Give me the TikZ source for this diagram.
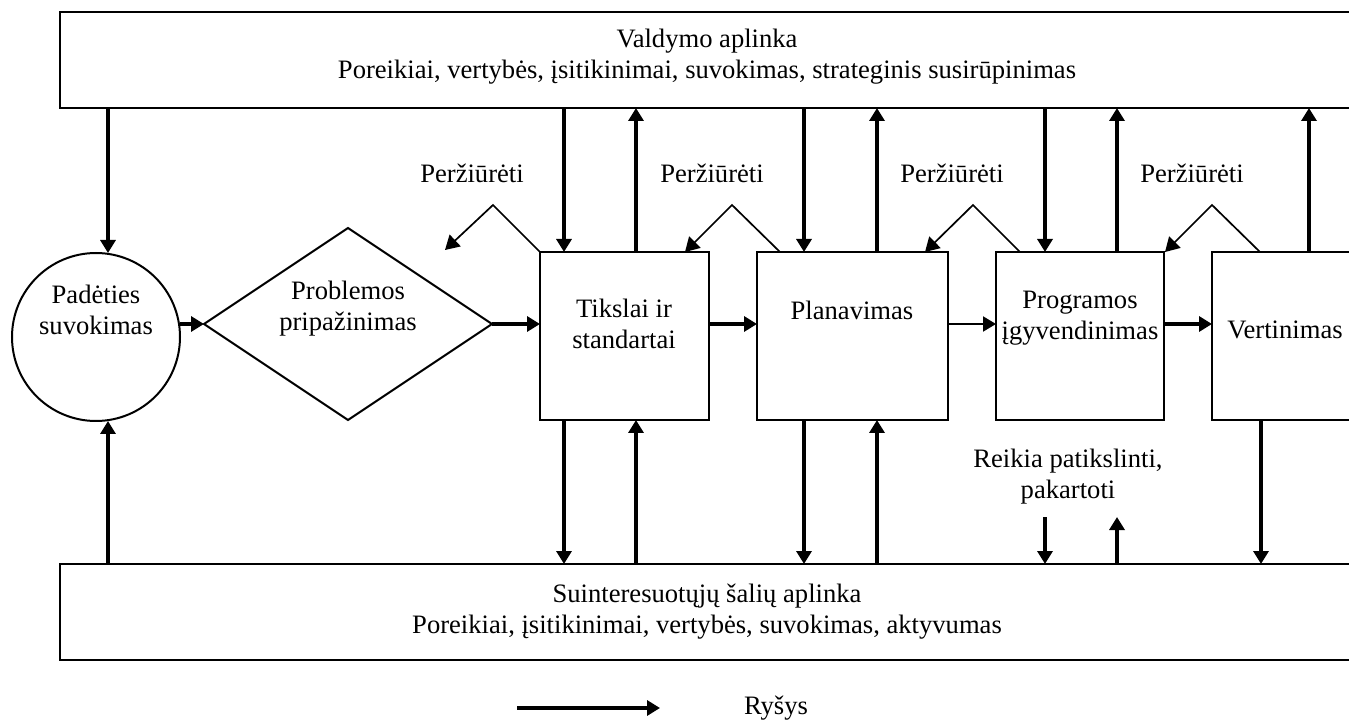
\documentclass[tikz,border=0pt]{standalone}
\usepackage{fontspec}
\setmainfont{Liberation Serif}
\usetikzlibrary{arrows.meta,shapes.geometric}

\begin{document}
\begin{tikzpicture}[x=0.5pt,y=-0.5pt,
  box/.style={draw,line width=1pt,inner sep=0pt,outer sep=0pt},
  lbl/.style={font=\fontsize{13.3}{15.5}\selectfont,align=center,inner sep=0pt},
  link/.style={line width=2pt,-{Triangle[length=6.5pt,width=7.5pt]}},
  thinlink/.style={line width=1pt,-{Triangle[length=6.5pt,width=7.5pt]}},
  review/.style={line width=0.85pt,-{Triangle[length=7pt,width=8pt]}}]

\useasboundingbox (0,0) rectangle (1349,721);
\clip (0,0) rectangle (1349,721);

% environments (top and bottom bands)
\node[box,anchor=north west,minimum width=670pt,minimum height=48pt] (top) at (60,12) {};
\node[box,anchor=north west,minimum width=670pt,minimum height=48pt] (bot) at (60,564) {};
\node[lbl] (topt) at (707,57) {Valdymo aplinka\\Poreikiai, vertybės, įsitikinimai, suvokimas, strateginis susirūpinimas};
\node[lbl] (bott) at (707,612) {Suinteresuotųjų šalių aplinka\\Poreikiai, įsitikinimai, vertybės, suvokimas, aktyvumas};

% process chain
\node[box,circle,minimum size=84pt] (circ) at (96,337) {};
\node[box,diamond,minimum width=144pt,minimum height=96pt] (dia) at (348,324) {};
\node[box,minimum width=84.5pt,minimum height=84pt] (tik) at (624.5,336) {};
\node[box,minimum width=95.5pt,minimum height=84pt] (plan) at (852.5,336) {};
\node[box,minimum width=84pt,minimum height=84pt] (prog) at (1080,336) {};
\node[box,anchor=north west,minimum width=84pt,minimum height=84pt] (vert) at (1212,252) {};

\node[lbl] (circt) at (96,310) {Padėties\\suvokimas};
\node[lbl] (diat) at (348,309) {Problemos\\pripažinimas};
\node[lbl] (tikt) at (624,324) {Tikslai ir\\standartai};
\node[lbl] (plant) at (852,310) {Planavimas};
\node[lbl] (progt) at (1080,318) {Programos\\įgyvendinimas};
\node[lbl] (vertt) at (1285,330) {Vertinimas};

% horizontal flow
\coordinate (row) at (0,324);
\draw[link] (circ.east |- row) -- (dia.west);
\draw[link] (dia.east) -- (tik.west |- row);
\draw[link] (tik.east |- row) -- (plan.west |- row);
\draw[thinlink] (plan.east |- row) -- (prog.west |- row);
\draw[link] (prog.east |- row) -- (vert.west |- row);

% vertical links
\coordinate (x0) at (108,0);
\coordinate (xa) at (564,0);
\coordinate (xb) at (636,0);
\coordinate (xc) at (804,0);
\coordinate (xd) at (877,0);
\coordinate (xe) at (1045,0);
\coordinate (xf) at (1117,0);
\coordinate (xg) at (1309,0);
\coordinate (xh) at (1261,0);

\draw[link] (x0 |- top.south) -- (x0 |- circ.north);
\draw[link] (x0 |- bot.north) -- (x0 |- circ.south);

\draw[link] (xa |- top.south) -- (xa |- tik.north);
\draw[link] (xb |- tik.north) -- (xb |- top.south);
\draw[link] (xa |- tik.south) -- (xa |- bot.north);
\draw[link] (xb |- bot.north) -- (xb |- tik.south);

\draw[link] (xc |- top.south) -- (xc |- plan.north);
\draw[link] (xd |- plan.north) -- (xd |- top.south);
\draw[link] (xc |- plan.south) -- (xc |- bot.north);
\draw[link] (xd |- bot.north) -- (xd |- plan.south);

\draw[link] (xe |- top.south) -- (xe |- prog.north);
\draw[link] (xf |- prog.north) -- (xf |- top.south);

\draw[link] (xg |- vert.north) -- (xg |- top.south);
\draw[link] (xh |- vert.south) -- (xh |- bot.north);

% refine / repeat loop
\node[lbl] (reikt) at (1068,477) {Reikia patikslinti,\\pakartoti};
\coordinate (rd) at (1045,517);
\coordinate (ru) at (1117,517);
\draw[link] (rd) -- (rd |- bot.north);
\draw[link] (ru |- bot.north) -- (ru);

% review carets
\coordinate (ap1) at (493,205); \coordinate (tp1) at (445,250);
\coordinate (ap2) at (732,205); \coordinate (rl2) at (780,252); \coordinate (tp2) at (685,252);
\coordinate (ap3) at (973,205); \coordinate (rl3) at (1020,252); \coordinate (tp3) at (925,252);
\coordinate (ap4) at (1212,205); \coordinate (rl4) at (1260,252); \coordinate (tp4) at (1165,252);
\draw[review] (tik.north west) -- (ap1) -- (tp1);
\draw[review] (rl2) -- (ap2) -- (tp2);
\draw[review] (rl3) -- (ap3) -- (tp3);
\draw[review] (rl4) -- (ap4) -- (tp4);
\node[lbl] (rv1) at (472,173) {Peržiūrėti};
\node[lbl] (rv2) at (712,173) {Peržiūrėti};
\node[lbl] (rv3) at (952,173) {Peržiūrėti};
\node[lbl] (rv4) at (1192,173) {Peržiūrėti};

% legend
\coordinate (lga) at (517,708);
\coordinate (lgb) at (660,708);
\draw[link] (lga) -- (lgb);
\node[lbl] (lgt) at (776,708) {Ryšys};

\end{tikzpicture}
\end{document}
